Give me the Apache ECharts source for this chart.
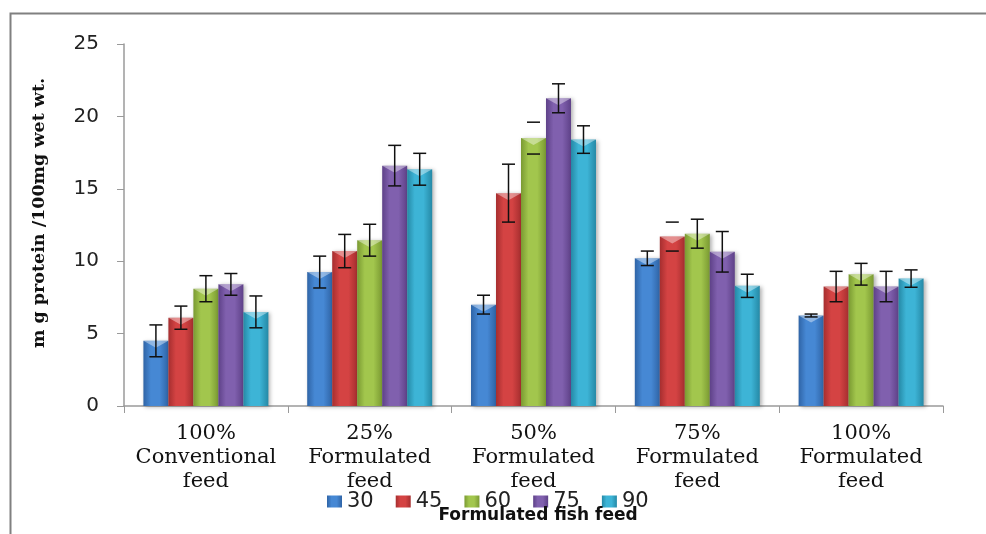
<!DOCTYPE html>
<html>
<head>
<meta charset="utf-8">
<script src="https://cdn.jsdelivr.net/npm/echarts@6/dist/echarts.min.js"></script>
<style>html,body{margin:0;padding:0;background:#fff;}#c{width:986px;height:534px;}</style>
</head>
<body>
<div id="c"></div>
<script>
const categories = ['100%\nConventional\nfeed', '25%\nFormulated\nfeed', '50%\nFormulated\nfeed', '75%\nFormulated\nfeed', '100%\nFormulated\nfeed'];
const seriesNames = ['30', '45', '60', '75', '90'];
const s30 = [4.5, 9.25, 7.0, 10.2, 6.25];
const s45 = [6.1, 10.7, 14.7, 11.7, 8.25];
const s60 = [8.1, 11.45, 18.5, 11.9, 9.1];
const s75 = [8.4, 16.6, 21.25, 10.65, 8.25];
const s90 = [6.5, 16.35, 18.4, 8.3, 8.8];
const e30 = [1.1, 1.1, 0.65, 0.5, 0.1];
const e45 = [0.8, 1.15, 2.0, 1.0, 1.05];
const e60 = [0.9, 1.1, 1.1, 1.0, 0.75];
const e75 = [0.75, 1.4, 1.0, 1.4, 1.05];
const e90 = [1.1, 1.1, 0.95, 0.8, 0.6];
const yTicks = [0, 5, 10, 15, 20, 25];

const values = [s30, s45, s60, s75, s90];
const errors = [e30, e45, e60, e75, e90];
const edgeColors = ['#2f64a6', '#a62e2f', '#7a9a32', '#5e4188', '#2589a6'];
const midColors = ['#4688d4', '#d44343', '#a2c64d', '#8060ae', '#3db4d6'];
const stemHidden = [[2, 2], [1, 3]];
const catGap = 0.237;

function grad(i) {
  return new echarts.graphic.LinearGradient(0, 0, 1, 0, [
    {offset: 0, color: edgeColors[i]},
    {offset: 0.3, color: midColors[i]},
    {offset: 0.65, color: midColors[i]},
    {offset: 1, color: edgeColors[i]}
  ]);
}

const series = [];
seriesNames.forEach((n, i) => {
  series.push({
    name: n, type: 'bar', data: values[i],
    barGap: '0%', barCategoryGap: (catGap * 100) + '%',
    itemStyle: {color: grad(i), shadowBlur: 4, shadowColor: 'rgba(0,0,0,0.3)', shadowOffsetX: 2, shadowOffsetY: 1},
    emphasis: {disabled: true}
  });
});
seriesNames.forEach((n, i) => {
  series.push({
    name: 'err' + n, type: 'custom', z: 10,
    data: values[i].map((v, k) => [k, v, v - errors[i][k], v + errors[i][k]]),
    encode: {x: 0, y: [1, 2, 3]},
    renderItem: function (params, api) {
      const k = api.value(0);
      const band = api.size([1, 0])[0];
      const total = band * (1 - catGap);
      const bw = total / 5;
      const off = -total / 2 + (i + 0.5) * bw;
      const top = api.coord([k, api.value(1)]);
      const lo = api.coord([k, api.value(2)]);
      const hi = api.coord([k, api.value(3)]);
      const x = top[0] + off;
      const cw = 6.5;
      const hide = stemHidden.some(p => p[0] === i && p[1] === k);
      const st = {stroke: '#111', lineWidth: 1.5};
      const children = [
        {type: 'polygon', shape: {points: [[x - bw / 2, top[1]], [x + bw / 2, top[1]], [x, top[1] + 7]]}, style: {fill: 'rgba(255,255,255,0.4)'}},
        {type: 'line', shape: {x1: x - cw, y1: hi[1], x2: x + cw, y2: hi[1]}, style: st},
        {type: 'line', shape: {x1: x - cw, y1: lo[1], x2: x + cw, y2: lo[1]}, style: st}
      ];
      if (!hide) children.push({type: 'line', shape: {x1: x, y1: hi[1], x2: x, y2: lo[1]}, style: st});
      return {type: 'group', children: children};
    }
  });
});

const chart = echarts.init(document.getElementById('c'));
chart.setOption({
  animation: false,
  backgroundColor: '#fff',
  graphic: [{type: 'rect', left: 8, top: 11, shape: {width: 1000, height: 600}, style: {fill: 'none', stroke: '#808080', lineWidth: 2}, silent: true}],
  title: {text: 'Formulated fish feed', left: 533, top: 502, textAlign: 'center',
    textStyle: {fontFamily: 'DejaVu Sans', fontWeight: 'bold', fontSize: 17, color: '#111'}},
  legend: {data: seriesNames, left: 322, top: 486, itemWidth: 15, itemHeight: 12, itemGap: 22,
    icon: 'rect', textStyle: {fontFamily: 'DejaVu Sans', fontSize: 21, color: '#222'}},
  grid: {left: 124, right: 43, top: 44, bottom: 128},
  xAxis: {type: 'category', data: categories,
    axisLine: {lineStyle: {color: '#9a9a9a', width: 1.5}},
    axisTick: {show: true, length: 7, lineStyle: {color: '#9a9a9a'}},
    axisLabel: {fontFamily: 'DejaVu Serif', fontSize: 21, lineHeight: 24, color: '#111', margin: 16, interval: 0}},
  yAxis: {type: 'value', min: yTicks[0], max: yTicks[yTicks.length - 1], interval: 5,
    name: 'm g protein /100mg wet wt.', nameLocation: 'middle', nameRotate: 90, nameGap: 76,
    nameTextStyle: {fontFamily: 'DejaVu Serif', fontWeight: 'bold', fontSize: 17.5, color: '#111', padding: [0, 0, 0, 24]},
    axisLine: {show: true, lineStyle: {color: '#9a9a9a', width: 1.5}},
    axisTick: {show: true, length: 7, lineStyle: {color: '#9a9a9a'}},
    splitLine: {show: false},
    axisLabel: {fontFamily: 'DejaVu Sans', fontSize: 20, color: '#222', margin: 25}},
  series: series
});
</script>
</body>
</html>
